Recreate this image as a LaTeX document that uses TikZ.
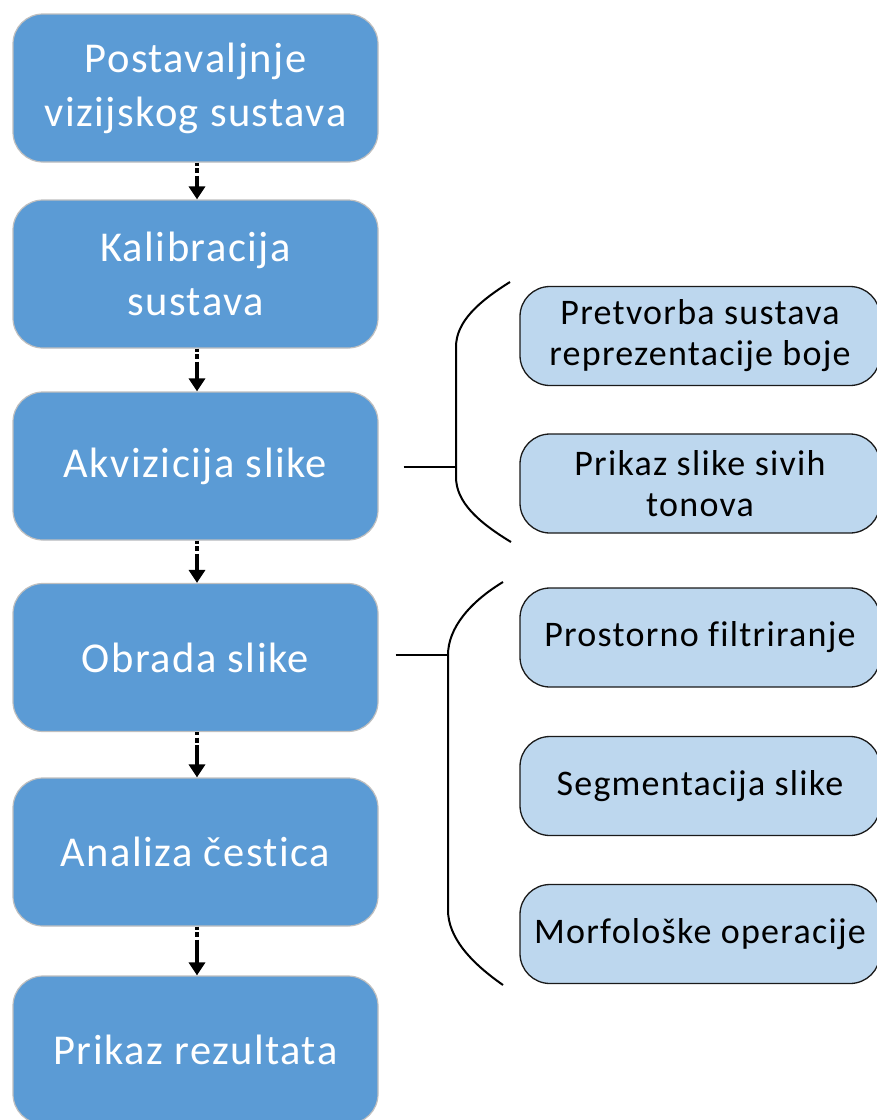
\documentclass[tikz,border=0pt]{standalone}
\usepackage{fontspec}
\setmainfont{Carlito}[LetterSpace=3.5,Ligatures=NoCommon]
\usetikzlibrary{arrows.meta}
\definecolor{mainblue}{HTML}{5B9BD5}
\definecolor{lightblue}{HTML}{BDD7EE}
\definecolor{mainborder}{HTML}{BFBFBF}
\definecolor{subborder}{HTML}{1A1A1A}
\begin{document}
\begin{tikzpicture}[x=1pt,y=-1pt,
  mainbox/.style={draw=mainborder, line width=1.2pt, fill=mainblue, rounded corners=30pt,
    minimum width=365pt, minimum height=148pt, inner sep=0pt, align=center, text=white,
    font=\fontsize{42.5}{54}\selectfont},
  subbox/.style={draw=subborder, line width=1.3pt, fill=lightblue, rounded corners=30pt,
    minimum width=360pt, minimum height=99pt, inner sep=0pt, align=center, text=black,
    font=\fontsize{36}{41}\selectfont},
  flow/.style={line width=4.5pt, dash pattern=on 3pt off 2.5pt on 5pt off 2.5pt on 100pt,
    -{Triangle[length=13pt,width=16pt]}},
  bracket/.style={line width=2pt},
  tick/.style={line width=2.7pt}
]
\useasboundingbox (0,0) rectangle (877,1120);

\node[mainbox] (a1) at (195.5,88)   {Postavaljnje\\vizijskog sustava};
\node[mainbox] (a2) at (195.5,274)  {Kalibracija\\sustava};
\node[mainbox] (a3) at (195.5,466)  {Akvizicija slike};
\node[mainbox] (a4) at (195.5,657.5){Obrada slike};
\node[mainbox] (a5) at (195.5,852)  {Analiza čestica};
\node[mainbox] (a6) at (195.5,1050) {Prikaz rezultata};

\node[subbox] (b1) at (700,336)   {Pretvorba sustava\\reprezentacije boje};
\node[subbox] (b2) at (700,483.5) {Prikaz slike sivih\\tonova};
\node[subbox] (b3) at (700,637.5) {Prostorno filtriranje};
\node[subbox] (b4) at (700,786)   {Segmentacija slike};
\node[subbox] (b5) at (700,934)   {Morfološke operacije};

\foreach \s/\t in {a1/a2,a2/a3,a3/a4,a4/a5,a5/a6}
  \draw[flow] ([xshift=1.5pt]\s.south) -- ([xshift=1.5pt]\t.north);

% bracket for Akvizicija slike
\coordinate (p1top) at (510,282);
\coordinate (p1bot) at (511,542);
\coordinate (p1mid) at (456,467);
\draw[bracket] (p1top) .. controls (478,302) and (456,322) .. (456,347)
  -- (456,477) .. controls (456,502) and (478,522) .. (p1bot);
\draw[tick] ([xshift=25pt]a3.east |- p1mid) -- (p1mid);

% bracket for Obrada slike
\coordinate (p2top) at (503,582);
\coordinate (p2bot) at (503,985);
\coordinate (p2mid) at (448,655);
\draw[bracket] (p2top) .. controls (470,602) and (448,628) .. (p2mid)
  -- (448,910) .. controls (448,937) and (470,962) .. (p2bot);
\draw[tick] ([xshift=17pt]a4.east |- p2mid) -- (p2mid);
\end{tikzpicture}
\end{document}
